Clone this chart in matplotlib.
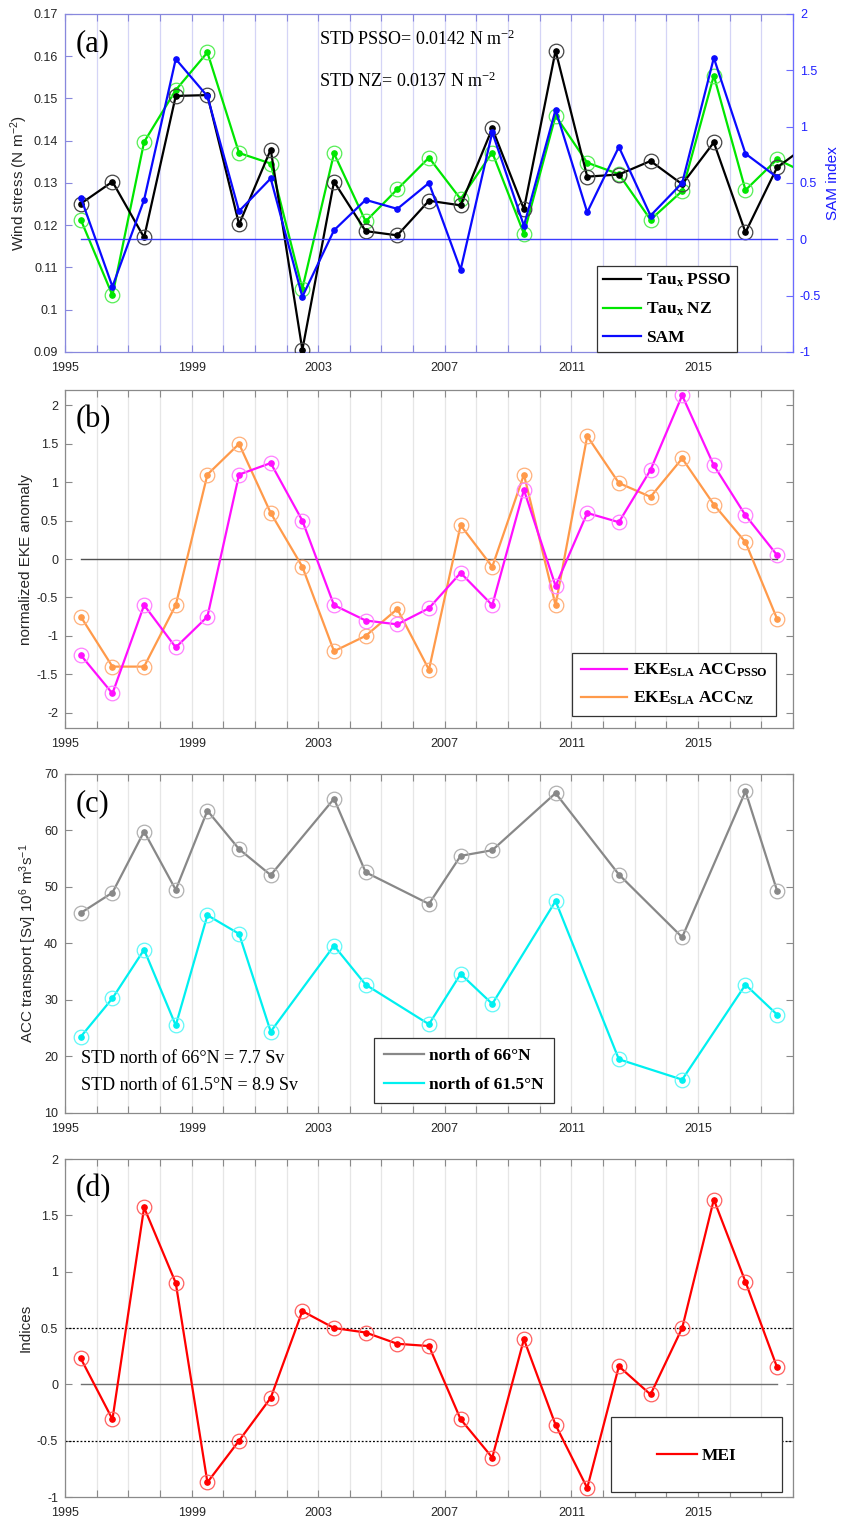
import numpy as np
import matplotlib
matplotlib.use('Agg')
import matplotlib.pyplot as plt
from matplotlib.ticker import FuncFormatter
from matplotlib.lines import Line2D
from matplotlib.patches import Rectangle

plt.rcParams['font.family'] = 'Liberation Sans'
plt.rcParams['axes.unicode_minus'] = False

# ---------------------------------------------------------------- data
years = [1995.5 + i for i in range(23)]
tau_years = years + [2018.5]

# (a) zonal wind stress (N m-2) and SAM index
tau_psso = [0.1251, 0.1303, 0.1171, 0.1506, 0.1508, 0.1202, 0.1379, 0.0905,
            0.1303, 0.1186, 0.1176, 0.1258, 0.1247, 0.1429, 0.1238, 0.1613,
            0.1315, 0.1320, 0.1352, 0.1297, 0.1396, 0.1183, 0.1337, 0.1392]
tau_nz = [0.1213, 0.1034, 0.1397, 0.1520, 0.1609, 0.1371, 0.1346, 0.1050,
          0.1370, 0.1209, 0.1285, 0.1360, 0.1262, 0.1372, 0.1180, 0.1459,
          0.1348, 0.1321, 0.1213, 0.1281, 0.1554, 0.1283, 0.1356, 0.1320]
sam = [0.37, -0.42, 0.35, 1.60, 1.27, 0.25, 0.54, -0.51, 0.08, 0.35, 0.27,
       0.50, -0.27, 0.95, 0.12, 1.15, 0.24, 0.82, 0.21, 0.50, 1.61, 0.76, 0.55]

# (b) normalized EKE anomaly
eke_psso = [-1.25, -1.75, -0.60, -1.15, -0.75, 1.10, 1.25, 0.50, -0.60, -0.80,
            -0.85, -0.64, -0.18, -0.60, 0.90, -0.35, 0.60, 0.48, 1.16, 2.13,
            1.22, 0.57, 0.05]
eke_nz = [-0.75, -1.40, -1.40, -0.60, 1.10, 1.50, 0.60, -0.10, -1.20, -1.00,
          -0.65, -1.44, 0.44, -0.10, 1.10, -0.60, 1.60, 0.99, 0.81, 1.31,
          0.71, 0.22, -0.78]

# (c) ACC transport (Sv)
acc_years = [1995.5, 1996.5, 1997.5, 1998.5, 1999.5, 2000.5, 2001.5, 2003.5,
             2004.5, 2006.5, 2007.5, 2008.5, 2010.5, 2012.5, 2014.5, 2016.5,
             2017.5]
acc_66 = [45.4, 49.0, 59.8, 49.5, 63.5, 56.7, 52.1, 65.6, 52.6, 47.0, 55.5,
          56.5, 66.6, 52.2, 41.1, 66.9, 49.3]
acc_615 = [23.5, 30.3, 38.9, 25.5, 45.0, 41.7, 24.4, 39.6, 32.7, 25.7, 34.6,
           29.3, 47.5, 19.5, 15.9, 32.7, 27.4]

# (d) MEI
mei = [0.23, -0.31, 1.57, 0.90, -0.87, -0.50, -0.12, 0.65, 0.50, 0.46, 0.36,
       0.34, -0.31, -0.65, 0.40, -0.36, -0.92, 0.16, -0.09, 0.50, 1.64, 0.91,
       0.15]

year_ticks = list(range(1995, 2019))
year_labels = [str(y) if (y - 1995) % 4 == 0 else '' for y in year_ticks]

serif = 'Liberation Serif'
leg_font = {'family': serif, 'weight': 'bold', 'size': 12.5}
leg_kw = dict(prop=leg_font, fancybox=False, framealpha=1,
              edgecolor='#333333', borderaxespad=0)
gfmt = FuncFormatter(lambda v, p: '%g' % round(v, 4))


def style_axes(ax, spine_color, grid_color):
    ax.set_xlim(1995, 2018)
    ax.set_xticks(year_ticks)
    ax.set_xticklabels(year_labels)
    ax.grid(axis='x', color=grid_color, lw=0.9)
    ax.set_axisbelow(True)
    for s in ax.spines.values():
        s.set_color(spine_color)
        s.set_linewidth(0.9)
    ax.tick_params(direction='in', length=5, width=0.8, top=True, right=True,
                   labelsize=9, labelcolor='#262626', pad=5,
                   color=spine_color)
    ax.tick_params(axis='x', pad=7)
    ax.yaxis.set_major_formatter(gfmt)


def plot_series(ax, x, y, color, ring):
    ax.plot(x, y, '-', color=color, lw=1.6, marker='o', ms=3.8, mfc=color,
            mec=color, zorder=3)
    ax.plot(x, y, 'o', ms=10.5, mfc='none', mec=ring, mew=0.9, zorder=3)


def panel_letter(ax, s):
    ax.text(0.015, 0.955, s, transform=ax.transAxes, family=serif,
            fontsize=22, va='top', ha='left')


fig = plt.figure(figsize=(8.46, 15.19), dpi=100)
L, W = 0.0768, 0.8605

# ---------------------------------------------------------------- (a)
ax = fig.add_axes([L, 0.7683, W, 0.2225])
style_axes(ax, '#8888dd', '#d4d4f6')
ax.tick_params(right=False)
ax.set_ylim(0.09, 0.17)
ax.set_yticks(np.arange(0.09, 0.1701, 0.01))
plot_series(ax, tau_years, tau_nz, '#00e600', '#55ee55')
plot_series(ax, tau_years, tau_psso, 'black', '#444444')
ax.set_ylabel('Wind stress (N m$\\mathregular{^{-2}}$)', fontsize=11,
              color='#262626')
ax.yaxis.set_label_coords(-0.048, 0.5)
panel_letter(ax, '(a)')
ax.text(0.349, 0.926, 'STD PSSO= 0.0142 N m$\\mathregular{^{-2}}$',
        transform=ax.transAxes, family=serif, fontsize=13, va='center')
ax.text(0.349, 0.802, 'STD NZ= 0.0137 N m$\\mathregular{^{-2}}$',
        transform=ax.transAxes, family=serif, fontsize=13, va='center')

ax2 = ax.twinx()
ax2.set_ylim(-1, 2)
ax2.set_yticks(np.arange(-1, 2.01, 0.5))
ax2.yaxis.set_major_formatter(gfmt)
for s in ax2.spines.values():
    s.set_visible(False)
ax2.spines['right'].set_visible(True)
ax2.spines['right'].set_color('#6b6bff')
ax2.tick_params(direction='in', length=5, width=0.8, labelsize=9,
                labelcolor='#2020ff', color='#6b6bff', pad=5)
ax2.plot([years[0], years[-1]], [0, 0], color='#3b3bff', lw=1.0, zorder=2)
ax2.plot(years, sam, '-', color='#0a0aff', lw=1.6, marker='o', ms=3.8,
         zorder=3)
ax2.set_ylabel('SAM index', fontsize=11, color='#1a1aff')
ax2.yaxis.set_label_coords(1.046, 0.5)
handles = [Line2D([], [], color='black', lw=1.6),
           Line2D([], [], color='#00e600', lw=1.6),
           Line2D([], [], color='#0a0aff', lw=1.6)]
leg = ax2.legend(handles, ['Tau$\\mathregular{_x}$ PSSO',
                           'Tau$\\mathregular{_x}$ NZ', 'SAM'],
                 loc='lower left', bbox_to_anchor=(0.7308, 0.0),
                 handlelength=2.2, labelspacing=0.66, borderpad=0.35,
                 handletextpad=0.25, **leg_kw)
leg.get_frame().set_linewidth(0.9)

# ---------------------------------------------------------------- (b)
ax = fig.add_axes([L, 0.5207, W, 0.2225])
style_axes(ax, '#8a8a8a', '#e6e6e6')
ax.set_ylim(-2.2, 2.2)
ax.set_yticks(np.arange(-2, 2.01, 0.5))
ax.plot([years[0], years[-1]], [0, 0], color='#505050', lw=1.0, zorder=2)
plot_series(ax, years, eke_nz, '#ff9a4a', '#ffb07a')
plot_series(ax, years, eke_psso, '#ff10ff', '#ff80ff')
ax.set_ylabel('normalized EKE anomaly', fontsize=11, color='#262626')
ax.yaxis.set_label_coords(-0.044, 0.5)
panel_letter(ax, '(b)')
handles = [Line2D([], [], color='#ff10ff', lw=1.6),
           Line2D([], [], color='#ff9a4a', lw=1.6)]
leg = ax.legend(handles, ['EKE$\\mathregular{_{SLA}}$ ACC$\\mathregular{_{PSSO}}$',
                          'EKE$\\mathregular{_{SLA}}$ ACC$\\mathregular{_{NZ}}$'],
                loc='upper left', bbox_to_anchor=(0.6964, 0.2219),
                handlelength=2.7, labelspacing=0.62, borderpad=0.5,
                handletextpad=0.3, **leg_kw)
leg.get_frame().set_linewidth(0.9)

# ---------------------------------------------------------------- (c)
ax = fig.add_axes([L, 0.2673, W, 0.2232])
style_axes(ax, '#8a8a8a', '#e6e6e6')
ax.set_ylim(10, 70)
ax.set_yticks(np.arange(10, 71, 10))
plot_series(ax, acc_years, acc_66, '#888888', '#b0b0b0')
plot_series(ax, acc_years, acc_615, '#00f0f0', '#60f8f8')
ax.set_ylabel('ACC transport [Sv] 10$\\mathregular{^6}$ m$\\mathregular{^3}$'
              's$\\mathregular{^{-1}}$', fontsize=11, color='#262626')
ax.yaxis.set_label_coords(-0.036, 0.5)
panel_letter(ax, '(c)')
ax.text(0.022, 0.162, 'STD north of 66°N = 7.7 Sv', transform=ax.transAxes,
        family=serif, fontsize=13, va='center')
ax.text(0.022, 0.080, 'STD north of 61.5°N = 8.9 Sv', transform=ax.transAxes,
        family=serif, fontsize=13, va='center')
handles = [Line2D([], [], color='#888888', lw=1.6),
           Line2D([], [], color='#00f0f0', lw=1.6)]
leg = ax.legend(handles, ['north of 66°N', 'north of 61.5°N'],
                loc='upper left', bbox_to_anchor=(0.4245, 0.2212),
                handlelength=2.3, labelspacing=0.72, borderpad=0.58,
                handletextpad=0.3, **leg_kw)
leg.get_frame().set_linewidth(0.9)

# ---------------------------------------------------------------- (d)
ax = fig.add_axes([L, 0.01448, W, 0.2225])
style_axes(ax, '#8a8a8a', '#e6e6e6')
ax.set_ylim(-1, 2)
ax.set_yticks(np.arange(-1, 2.01, 0.5))
ax.axhline(0.5, color='black', lw=0.9, ls=(0, (1.5, 1.5)), zorder=2)
ax.axhline(-0.5, color='black', lw=0.9, ls=(0, (1.5, 1.5)), zorder=2)
ax.plot([years[0], years[-1]], [0, 0], color='#707070', lw=1.0, zorder=2)
plot_series(ax, years, mei, '#ff0000', '#ff6060')
ax.set_ylabel('Indices', fontsize=11, color='#262626')
ax.yaxis.set_label_coords(-0.045, 0.5)
panel_letter(ax, '(d)')
ax.add_patch(Rectangle((0.750, 0.0148), 0.235, 0.2219,
                       transform=ax.transAxes, facecolor='white',
                       edgecolor='#333333', lw=0.9, zorder=5))
leg = ax.legend([Line2D([], [], color='#ff0000', lw=1.6)], ['MEI'],
                loc='center', bbox_to_anchor=(0.8675, 0.121), frameon=False,
                prop=leg_font, handlelength=2.3, handletextpad=0.3,
                borderaxespad=0)
leg.set_zorder(6)

fig.savefig('out.png', dpi=100)
